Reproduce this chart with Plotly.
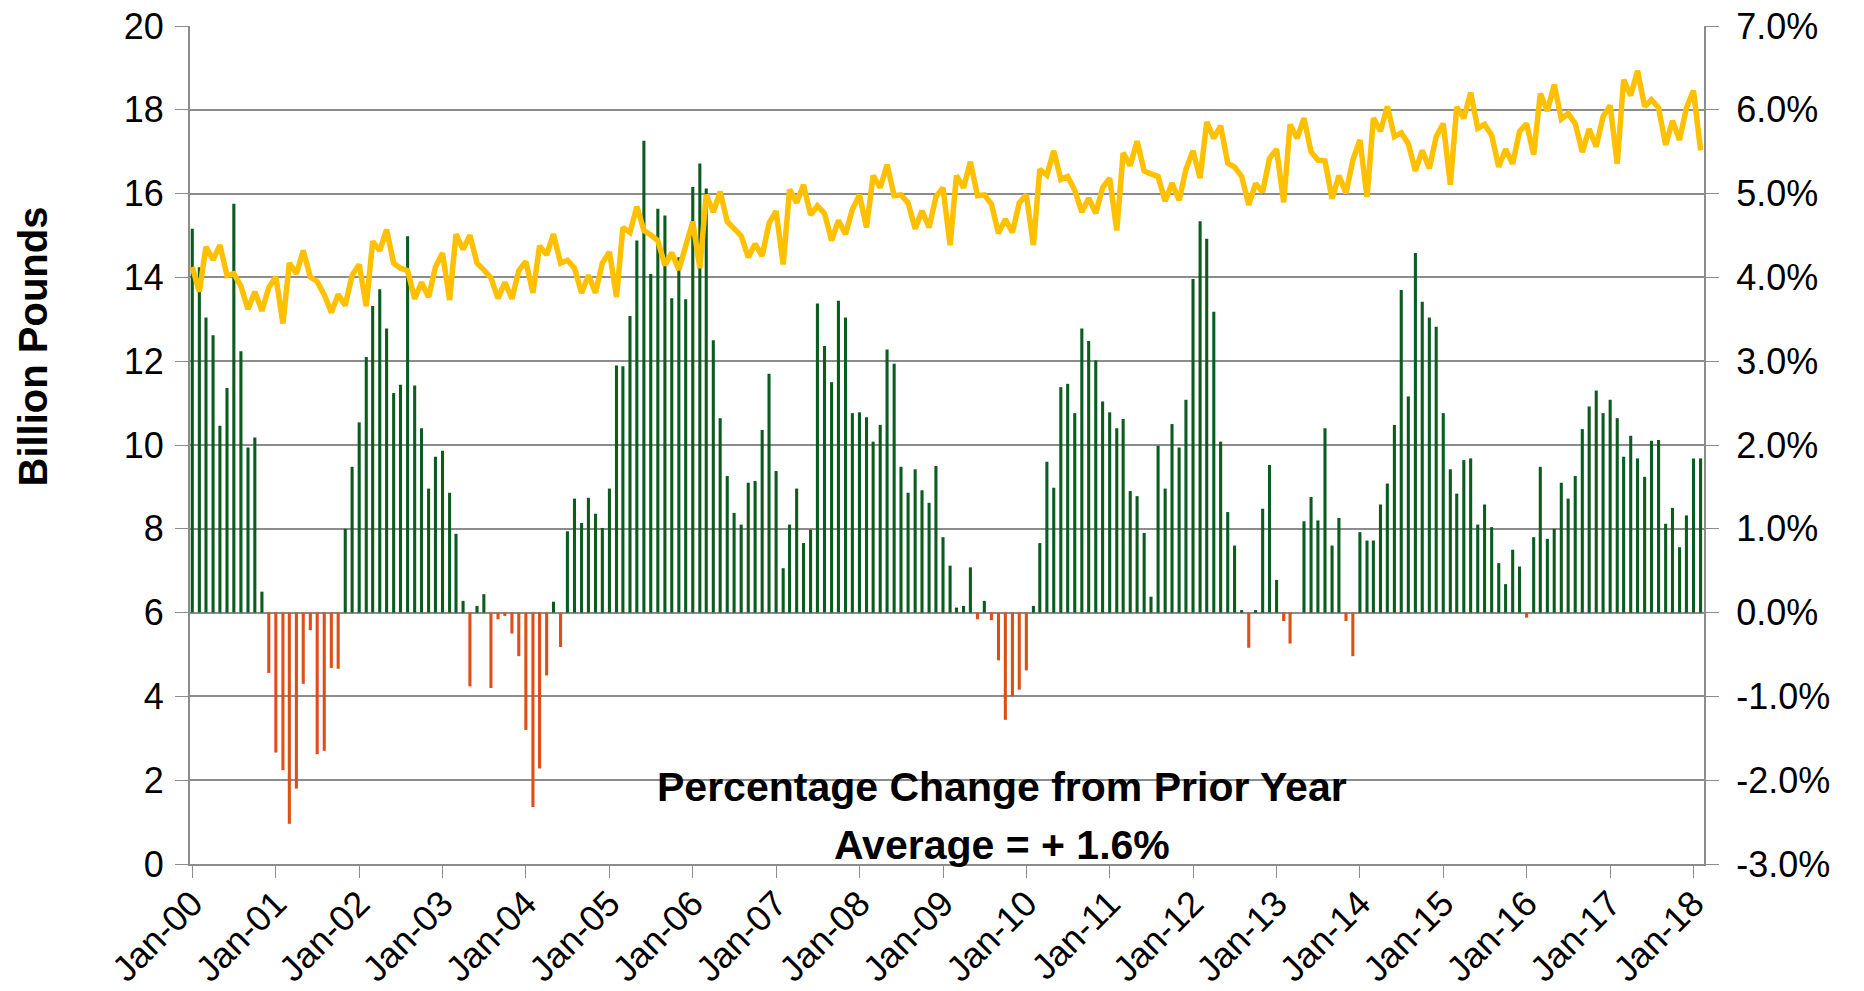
import pandas as pd
import plotly.graph_objects as go

# monthly series, Jan-2000 .. Feb-2018
months = pd.date_range("2000-01-01", periods=218, freq="MS")

# billion pounds (left axis, line)
pounds = [
    14.25, 13.66, 14.73, 14.42, 14.77, 14.05, 14.09, 13.79, 13.24, 13.66, 13.20, 13.76,
    14.01, 12.90, 14.34, 14.09, 14.64, 14.01, 13.90, 13.59, 13.16, 13.59, 13.33, 14.05,
    14.31, 13.31, 14.86, 14.64, 15.14, 14.34, 14.22, 14.16, 13.49, 13.88, 13.53, 14.25,
    14.58, 13.46, 15.03, 14.67, 15.01, 14.34, 14.18, 13.99, 13.50, 13.88, 13.49, 14.16,
    14.38, 13.63, 14.75, 14.54, 15.03, 14.34, 14.41, 14.22, 13.63, 14.05, 13.63, 14.34,
    14.61, 13.53, 15.19, 15.07, 15.69, 15.12, 15.01, 14.88, 14.29, 14.59, 14.18, 14.81,
    15.33, 14.22, 15.97, 15.56, 16.05, 15.33, 15.14, 14.99, 14.48, 14.80, 14.51, 15.29,
    15.58, 14.31, 16.10, 15.78, 16.21, 15.49, 15.71, 15.53, 14.88, 15.36, 15.03, 15.62,
    15.97, 15.19, 16.43, 16.14, 16.69, 15.95, 15.97, 15.78, 15.16, 15.59, 15.19, 15.92,
    16.14, 14.77, 16.43, 16.14, 16.76, 15.95, 15.97, 15.75, 15.05, 15.39, 15.07, 15.78,
    15.97, 14.77, 16.58, 16.44, 17.02, 16.34, 16.41, 16.08, 15.56, 15.89, 15.53, 16.14,
    16.37, 15.12, 16.97, 16.67, 17.25, 16.54, 16.47, 16.41, 15.82, 16.25, 15.84, 16.58,
    17.02, 16.37, 17.71, 17.32, 17.62, 16.73, 16.63, 16.41, 15.73, 16.24, 16.04, 16.84,
    17.06, 15.79, 17.65, 17.32, 17.80, 17.00, 16.80, 16.78, 15.88, 16.43, 16.01, 16.80,
    17.28, 15.92, 17.80, 17.49, 18.08, 17.36, 17.45, 17.19, 16.54, 17.03, 16.60, 17.36,
    17.67, 16.21, 18.07, 17.80, 18.41, 17.56, 17.65, 17.39, 16.64, 17.06, 16.71, 17.48,
    17.67, 16.93, 18.39, 17.97, 18.60, 17.78, 17.91, 17.67, 16.99, 17.54, 17.12, 17.84,
    18.10, 16.71, 18.72, 18.34, 18.93, 18.08, 18.24, 18.05, 17.16, 17.74, 17.28, 18.05,
    18.46, 17.03,
]

# percentage change from prior year (right axis, bars)
pct_change = [
    4.58, 4.12, 3.52, 3.31, 2.23, 2.68, 4.88, 3.12, 1.97, 2.09, 0.25, -0.72,
    -1.67, -1.88, -2.52, -2.10, -0.85, -0.21, -1.69, -1.65, -0.66, -0.67, 1.00, 1.74,
    2.27, 3.05, 3.66, 3.86, 3.39, 2.62, 2.72, 4.49, 2.71, 2.20, 1.48, 1.86,
    1.93, 1.43, 0.94, 0.14, -0.88, 0.08, 0.22, -0.90, -0.08, -0.04, -0.25, -0.52,
    -1.40, -2.32, -1.86, -0.75, 0.13, -0.41, 0.97, 1.36, 1.07, 1.37, 1.18, 1.01,
    1.48, 2.95, 2.94, 3.54, 4.44, 5.63, 4.04, 4.82, 4.74, 3.75, 4.24, 3.74,
    5.08, 5.36, 5.06, 3.25, 2.32, 1.63, 1.19, 1.05, 1.55, 1.57, 2.18, 2.85,
    1.69, 0.53, 1.05, 1.48, 0.83, 0.99, 3.69, 3.18, 2.75, 3.72, 3.52, 2.38,
    2.39, 2.33, 2.04, 2.24, 3.14, 2.97, 1.74, 1.43, 1.71, 1.46, 1.31, 1.75,
    0.90, 0.56, 0.06, 0.08, 0.54, -0.08, 0.14, -0.09, -0.57, -1.28, -1.00, -0.92,
    -0.69, 0.08, 0.83, 1.80, 1.49, 2.69, 2.73, 2.38, 3.39, 3.24, 3.01, 2.52,
    2.39, 2.20, 2.31, 1.45, 1.39, 0.95, 0.19, 1.99, 1.48, 2.25, 1.97, 2.54,
    3.98, 4.67, 4.46, 3.59, 2.04, 1.20, 0.80, 0.03, -0.42, 0.03, 1.24, 1.76,
    0.39, -0.10, -0.37, 0.00, 1.09, 1.38, 1.10, 2.20, 0.80, 1.13, -0.10, -0.52,
    0.96, 0.86, 0.86, 1.29, 1.54, 2.24, 3.85, 2.58, 4.29, 3.71, 3.52, 3.41,
    2.38, 1.71, 1.42, 1.82, 1.84, 1.05, 1.29, 1.02, 0.59, 0.34, 0.75, 0.55,
    -0.06, 0.90, 1.74, 0.88, 1.00, 1.55, 1.36, 1.63, 2.19, 2.46, 2.65, 2.38,
    2.54, 2.32, 1.86, 2.11, 1.84, 1.62, 2.05, 2.06, 1.06, 1.25, 0.78, 1.16,
    1.84, 1.84,
]

pct_ticks = [-3, -2, -1, 0, 1, 2, 3, 4, 5, 6, 7]
pound_ticks = [0, 2, 4, 6, 8, 10, 12, 14, 16, 18, 20]

GREEN = "#0a5c1f"
ORANGE = "#dc4f17"
GOLD = "#ffc000"
GRID = "#8c8c8c"
FONT = "Liberation Sans, Arial, sans-serif"

bar_colors = [GREEN if v >= 0 else ORANGE for v in pct_change]

fig = go.Figure()

fig.add_trace(go.Bar(
    x=months,
    y=pct_change,
    marker=dict(color=bar_colors, line=dict(width=0)),
    width=13.5 * 86400000,
    yaxis="y",
    showlegend=False,
))

fig.add_trace(go.Scatter(
    x=months,
    y=pounds,
    mode="lines",
    line=dict(color=GOLD, width=5.5),
    yaxis="y2",
    showlegend=False,
))

# page body has an 8px margin, so the figure is a bit smaller than the window
fig.update_layout(
    width=1856,
    height=983,
    paper_bgcolor="white",
    plot_bgcolor="white",
    margin=dict(l=182, r=160, t=18, b=127),
    font=dict(family=FONT, color="black"),
    xaxis=dict(
        type="date",
        range=["1999-12-22", "2018-02-16"],
        tick0="2000-01-01",
        dtick="M12",
        tickformat="%b-%y",
        tickangle=-45,
        tickfont=dict(size=36),
        ticks="outside",
        ticklen=12,
        tickcolor=GRID,
        ticklabelstandoff=-10,
        ticklabeloverflow="allow",
        showgrid=False,
        showline=True,
        linecolor=GRID,
        linewidth=2,
        zeroline=False,
        automargin=False,
    ),
    yaxis=dict(
        side="right",
        range=[-3, 7],
        tickmode="array",
        tickvals=pct_ticks,
        ticktext=[f"{v:.1f}%" for v in pct_ticks],
        tickfont=dict(size=36),
        ticks="outside",
        ticklen=13,
        tickcolor=GRID,
        ticklabelstandoff=10,
        ticklabeloverflow="allow",
        showgrid=True,
        gridcolor=GRID,
        gridwidth=1.5,
        showline=True,
        linecolor=GRID,
        linewidth=2,
        zeroline=False,
        automargin=False,
    ),
    yaxis2=dict(
        side="left",
        overlaying="y",
        range=[0, 20],
        tickmode="array",
        tickvals=pound_ticks,
        tickfont=dict(size=36),
        ticks="outside",
        ticklen=13,
        tickcolor=GRID,
        ticklabelstandoff=4,
        ticklabeloverflow="allow",
        showgrid=False,
        showline=True,
        linecolor=GRID,
        linewidth=2,
        zeroline=False,
        automargin=False,
    ),
    annotations=[
        dict(
            text="<b>Billion Pounds</b>",
            textangle=-90,
            xref="paper", yref="paper",
            x=-0.104, y=0.617,
            xanchor="center", yanchor="middle",
            showarrow=False,
            font=dict(size=40),
        ),
        dict(
            text="<b>Percentage Change from Prior Year</b>",
            xref="paper", yref="paper",
            x=0.536, y=0.092,
            xanchor="center", yanchor="middle",
            showarrow=False,
            font=dict(size=41),
        ),
        dict(
            text="<b>Average = + 1.6%</b>",
            xref="paper", yref="paper",
            x=0.536, y=0.023,
            xanchor="center", yanchor="middle",
            showarrow=False,
            font=dict(size=41),
        ),
    ],
)

fig.write_html("out.html")
